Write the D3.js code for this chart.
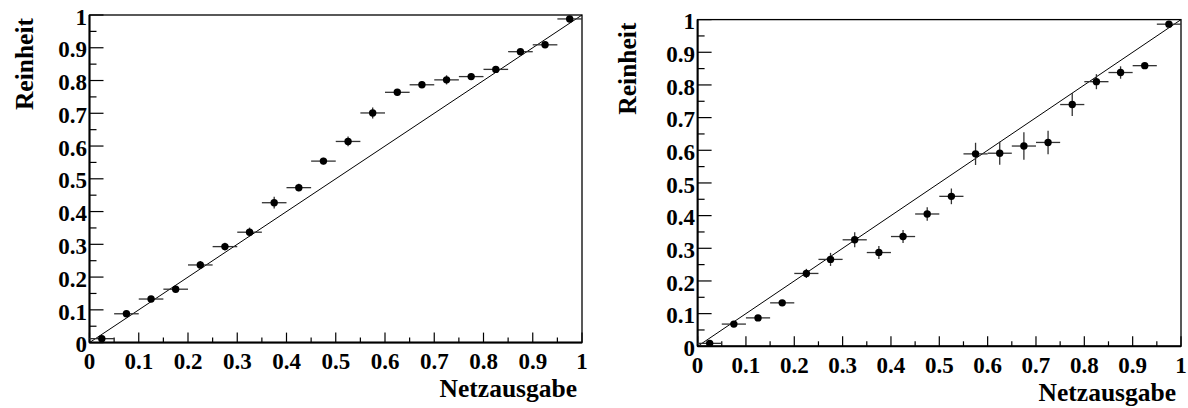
<!DOCTYPE html>
<html>
<head>
<meta charset="utf-8">
<script src="https://cdn.jsdelivr.net/npm/d3@7"></script>
<style>
  html, body { margin: 0; padding: 0; background: #fff; }
  svg { display: block; }
  .tick-label { font-family: "Liberation Serif", "Times New Roman", serif; font-weight: bold; font-size: 23px; fill: #000; }
  .axis-title { font-family: "Liberation Serif", "Times New Roman", serif; font-weight: bold; font-size: 25.5px; fill: #000; }
</style>
</head>
<body>
<svg id="chart" width="1188" height="408"></svg>
<script>
// Bin centres of the network output (20 bins of width 0.05)
const binCenters = [0.025, 0.075, 0.125, 0.175, 0.225, 0.275, 0.325, 0.375, 0.425, 0.475,
                    0.525, 0.575, 0.625, 0.675, 0.725, 0.775, 0.825, 0.875, 0.925, 0.975];
const binHalfWidth = 0.025;

// Left panel: purity per bin and its uncertainty
const purityLeft = [0.012, 0.088, 0.133, 0.163, 0.237, 0.293, 0.337, 0.427, 0.473, 0.554,
                    0.614, 0.701, 0.764, 0.787, 0.802, 0.812, 0.834, 0.888, 0.909, 0.988];
const errLeft    = [0.004, 0.008, 0.008, 0.008, 0.012, 0.012, 0.014, 0.018, 0.012, 0.010,
                    0.015, 0.017, 0.010, 0.010, 0.014, 0.010, 0.008, 0.008, 0.008, 0.004];

// Right panel: purity per bin and its uncertainty
const purityRight = [0.009, 0.068, 0.087, 0.133, 0.223, 0.266, 0.326, 0.287, 0.336, 0.405,
                     0.459, 0.589, 0.591, 0.613, 0.624, 0.740, 0.810, 0.838, 0.859, 0.986];
const errRight    = [0.005, 0.008, 0.008, 0.008, 0.014, 0.020, 0.023, 0.020, 0.020, 0.021,
                     0.024, 0.034, 0.035, 0.042, 0.036, 0.035, 0.023, 0.019, 0.008, 0.005];

const majorTicks = [0, 0.1, 0.2, 0.3, 0.4, 0.5, 0.6, 0.7, 0.8, 0.9, 1];
const tickLabels = ["0", "0.1", "0.2", "0.3", "0.4", "0.5", "0.6", "0.7", "0.8", "0.9", "1"];
const minorTicks = [0.05, 0.15, 0.25, 0.35, 0.45, 0.55, 0.65, 0.75, 0.85, 0.95];

const xTitle = "Netzausgabe";
const yTitle = "Reinheit";

const svg = d3.select("#chart");

function drawPanel(frame, values, errors) {
  const x = d3.scaleLinear().domain([0, 1]).range([frame.left, frame.right]);
  const y = d3.scaleLinear().domain([0, 1]).range([frame.bottom, frame.top]);
  const g = svg.append("g");

  // frame box
  g.append("rect")
    .attr("x", frame.left).attr("y", frame.top)
    .attr("width", frame.right - frame.left).attr("height", frame.bottom - frame.top)
    .attr("fill", "none").attr("stroke", "#000").attr("stroke-width", 1.3);

  // x axis ticks pointing inward
  g.selectAll(".xmaj").data(majorTicks).join("line")
    .attr("x1", d => x(d)).attr("x2", d => x(d))
    .attr("y1", frame.bottom).attr("y2", frame.bottom - 10)
    .attr("stroke", "#000").attr("stroke-width", 1.2);
  g.selectAll(".xmin").data(minorTicks).join("line")
    .attr("x1", d => x(d)).attr("x2", d => x(d))
    .attr("y1", frame.bottom).attr("y2", frame.bottom - 5)
    .attr("stroke", "#000").attr("stroke-width", 1.2);
  // y axis ticks pointing inward
  g.selectAll(".ymaj").data(majorTicks).join("line")
    .attr("x1", frame.left).attr("x2", frame.left + 14)
    .attr("y1", d => y(d)).attr("y2", d => y(d))
    .attr("stroke", "#000").attr("stroke-width", 1.2);
  g.selectAll(".ymin").data(minorTicks).join("line")
    .attr("x1", frame.left).attr("x2", frame.left + 7)
    .attr("y1", d => y(d)).attr("y2", d => y(d))
    .attr("stroke", "#000").attr("stroke-width", 1.2);

  // bold axis lines on left and bottom
  g.append("line").attr("x1", frame.left).attr("x2", frame.right)
    .attr("y1", frame.bottom).attr("y2", frame.bottom)
    .attr("stroke", "#000").attr("stroke-width", 2);
  g.append("line").attr("x1", frame.left).attr("x2", frame.left)
    .attr("y1", frame.top).attr("y2", frame.bottom)
    .attr("stroke", "#000").attr("stroke-width", 2);

  // tick labels
  g.selectAll(".xlab").data(majorTicks).join("text")
    .attr("class", "tick-label")
    .attr("x", d => x(d)).attr("y", frame.bottom + 26.5)
    .attr("text-anchor", "middle")
    .text((d, i) => tickLabels[i]);
  g.selectAll(".ylab").data(majorTicks).join("text")
    .attr("class", "tick-label")
    .attr("x", frame.left - 2.5).attr("y", d => y(d))
    .attr("dy", "0.42em")
    .attr("text-anchor", "end")
    .text((d, i) => tickLabels[i]);

  // axis titles
  g.append("text").attr("class", "axis-title")
    .attr("x", frame.right - 5).attr("y", frame.bottom + 54.5)
    .attr("text-anchor", "end").text(xTitle);
  g.append("text").attr("class", "axis-title")
    .attr("transform", `translate(${frame.left - frame.yTitleGap},${frame.top + 3}) rotate(-90)`)
    .attr("text-anchor", "end").text(yTitle);

  // diagonal reference line
  g.append("line")
    .attr("x1", x(0)).attr("y1", y(0)).attr("x2", x(1)).attr("y2", y(1))
    .attr("stroke", "#000").attr("stroke-width", 1);

  const pts = binCenters.map((c, i) => ({ c, v: values[i], e: errors[i] }));

  // horizontal error bars (bin width)
  g.selectAll(".hbar").data(pts).join("line")
    .attr("x1", d => x(d.c - binHalfWidth)).attr("x2", d => x(d.c + binHalfWidth))
    .attr("y1", d => y(d.v)).attr("y2", d => y(d.v))
    .attr("stroke", "#333").attr("stroke-width", 1.3);
  // vertical error bars
  g.selectAll(".vbar").data(pts).join("line")
    .attr("x1", d => x(d.c)).attr("x2", d => x(d.c))
    .attr("y1", d => y(d.v - d.e)).attr("y2", d => y(d.v + d.e))
    .attr("stroke", "#333").attr("stroke-width", 1.3);
  // markers
  g.selectAll(".mark").data(pts).join("circle")
    .attr("cx", d => x(d.c)).attr("cy", d => y(d.v))
    .attr("r", 3.7).attr("fill", "#000");
}

drawPanel({ left: 89.5, right: 582, top: 15, bottom: 342.6, yTitleGap: 56.5 }, purityLeft, errLeft);
drawPanel({ left: 697.6, right: 1181, top: 19.6, bottom: 346.3, yTitleGap: 61.6 }, purityRight, errRight);
</script>
</body>
</html>
